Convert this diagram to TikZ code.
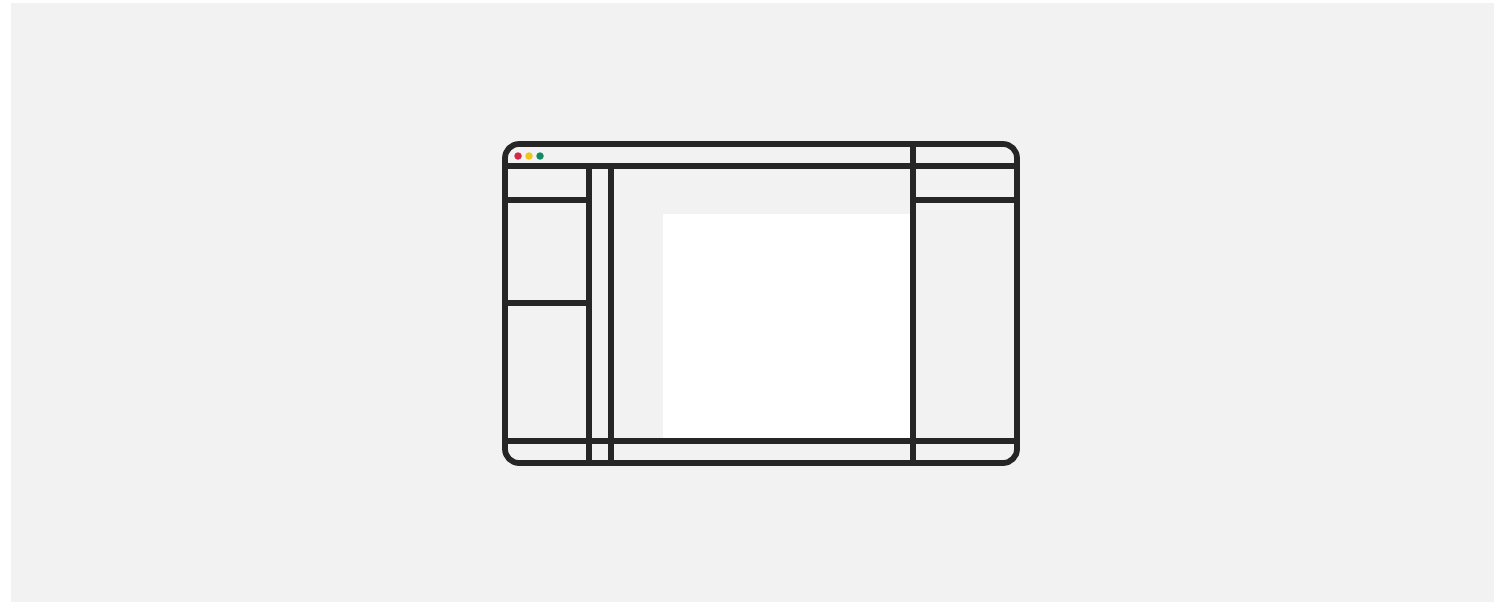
\documentclass[tikz,border=0pt]{standalone}
\usepackage{tikz}
\usetikzlibrary{positioning}
\definecolor{bggray}{HTML}{F2F2F2}
\definecolor{framegray}{HTML}{262626}
\definecolor{dotred}{HTML}{D42A45}
\definecolor{dotyellow}{HTML}{F0C419}
\definecolor{dotgreen}{HTML}{138A63}
\tikzset{
	wire/.style={draw=framegray, line width=1.15mm},
	winframe/.style={wire, rounded corners=2.8mm},
}

\begin{document}
\begin{tikzpicture}[x=0.2mm, y=-0.2mm]
	\useasboundingbox (0,0) rectangle (1494,602);
	\fill[bggray] (11,3) rectangle (1494,602);
	% content area
	\fill[white] (663,214) rectangle (911,441);
	% window frame
	\coordinate (TL) at (505,144);
	\coordinate (BR) at (1017,463);
	\draw[winframe] (TL) rectangle (BR);
	% title bar dots
	\fill[dotred] (518,156) circle (0.75mm);
	\fill[dotyellow] (529,156) circle (0.75mm);
	\fill[dotgreen] (540,156) circle (0.75mm);
	% title bar and footer
	\draw[wire] (505,166) -- (1017,166);
	\draw[wire] (505,441) -- (1017,441);
	% columns
	\draw[wire] (589,166) -- (589,463);
	\draw[wire] (611,166) -- (611,463);
	\draw[wire] (913,144) -- (913,463);
	% left panel rows
	\draw[wire] (505,200) -- (589,200);
	\draw[wire] (505,303) -- (589,303);
	% right panel row
	\draw[wire] (913,200) -- (1017,200);
\end{tikzpicture}
\end{document}
